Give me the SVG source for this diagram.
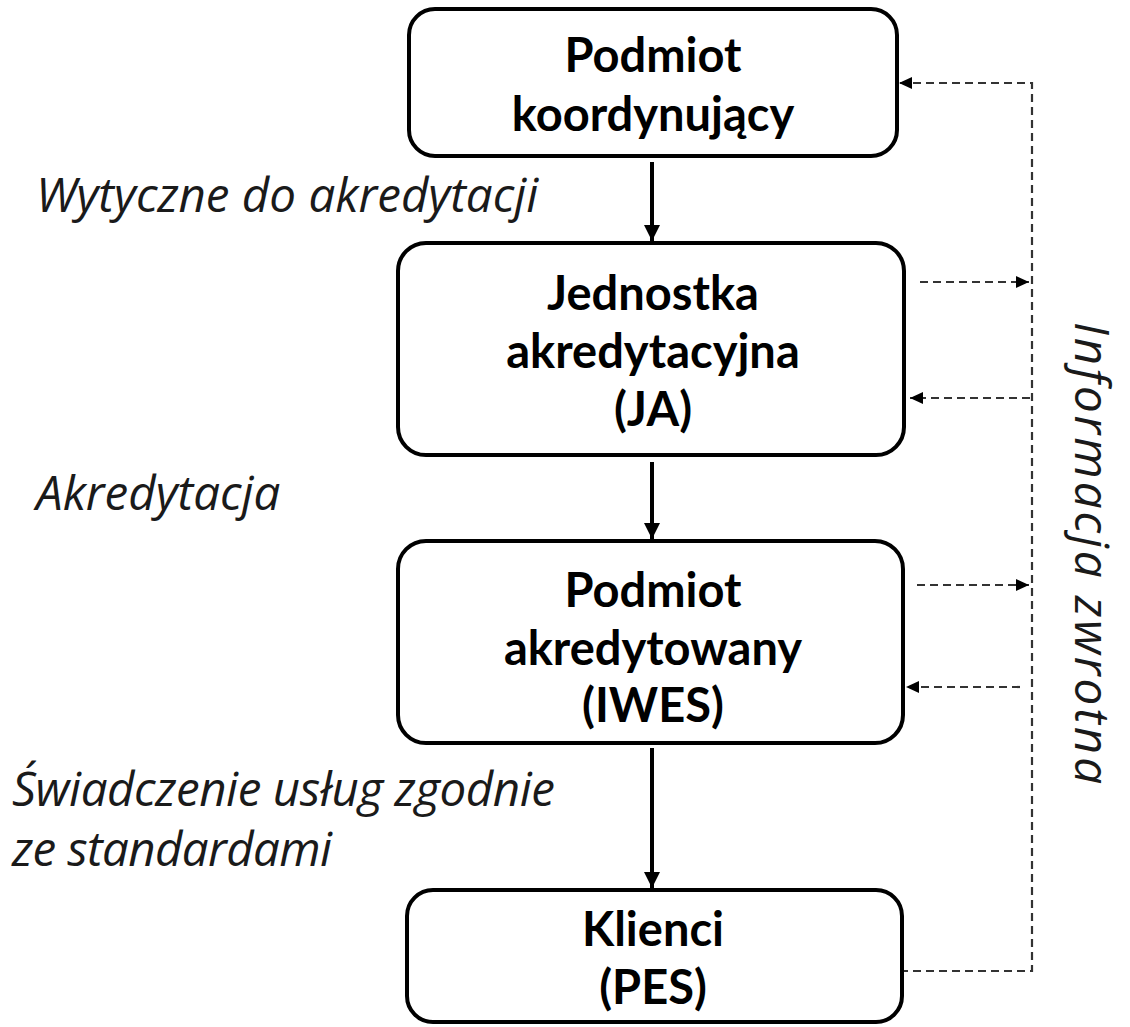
<svg xmlns="http://www.w3.org/2000/svg" width="1130" height="1027" viewBox="0 0 1130 1027">
<style>
.box{fill:#fff;stroke:#000;stroke-width:4}
.bt{font-family:Lato,"Liberation Sans",sans-serif;font-weight:bold;font-size:47px;text-anchor:middle;fill:#000}
.lbl{font-family:"Open Sans","Liberation Sans",sans-serif;font-style:italic;font-weight:400;font-size:47.5px;fill:#1a1a1a}
.solid{stroke:#000;stroke-width:4;fill:none}
.dash{stroke:#333;stroke-width:2.2;stroke-dasharray:8 5;fill:none}
</style>
<defs>
<marker id="ah" markerUnits="userSpaceOnUse" markerWidth="20" markerHeight="20" refX="16" refY="8" orient="auto">
<path d="M0,0 L16,8 L0,16 z" fill="#000"/>
</marker>
<marker id="dh" markerUnits="userSpaceOnUse" markerWidth="16" markerHeight="14" refX="13" refY="6" orient="auto">
<path d="M0,0 L13,6 L0,12 z" fill="#000"/>
</marker>
</defs>
<g id="connectors">
<line class="solid" x1="652" y1="162" x2="652" y2="241" marker-end="url(#ah)"/>
<line class="solid" x1="652" y1="462" x2="652" y2="539" marker-end="url(#ah)"/>
<line class="solid" x1="652" y1="748" x2="652" y2="888" marker-end="url(#ah)"/>
<polyline class="dash" points="900,971 1032,971 1032,83 899,83" marker-end="url(#dh)"/>
<line class="dash" x1="920" y1="282" x2="1029" y2="282" marker-end="url(#dh)"/>
<line class="dash" x1="1030" y1="398" x2="910" y2="398" marker-end="url(#dh)"/>
<line class="dash" x1="917" y1="585" x2="1029" y2="585" marker-end="url(#dh)"/>
<line class="dash" x1="1020" y1="687" x2="906" y2="687" marker-end="url(#dh)"/>
</g>
<g id="node1">
<rect class="box" x="409" y="9" width="488" height="147" rx="26"/>
<text class="bt" x="653" y="72">Podmiot</text>
<text class="bt" x="653" y="131">koordynujący</text>
</g>
<g id="node2">
<rect class="box" x="398" y="243" width="506" height="212" rx="28"/>
<text class="bt" x="653" y="310">Jednostka</text>
<text class="bt" x="653" y="368">akredytacyjna</text>
<text class="bt" x="653" y="426">(JA)</text>
</g>
<g id="node3">
<rect class="box" x="398" y="541" width="505" height="202" rx="28"/>
<text class="bt" x="653" y="607">Podmiot</text>
<text class="bt" x="653" y="665">akredytowany</text>
<text class="bt" x="653" y="722">(IWES)</text>
</g>
<g id="node4">
<rect class="box" x="407" y="890" width="495" height="132" rx="26"/>
<text class="bt" x="653" y="946">Klienci</text>
<text class="bt" x="653" y="1004">(PES)</text>
</g>
<g id="labels">
<text class="lbl" x="36" y="212">Wytyczne do akredytacji</text>
<text class="lbl" x="36" y="510">Akredytacja</text>
<text class="lbl" x="12" y="806" font-size="42" textLength="543" lengthAdjust="spacing">Świadczenie usług zgodnie</text>
<text class="lbl" x="12" y="866" font-size="42" textLength="320" lengthAdjust="spacing">ze standardami</text>
<text class="lbl" transform="translate(1075,553) rotate(90)" text-anchor="middle" font-size="58" textLength="462" lengthAdjust="spacing">Informacja zwrotna</text>
</g>
</svg>
